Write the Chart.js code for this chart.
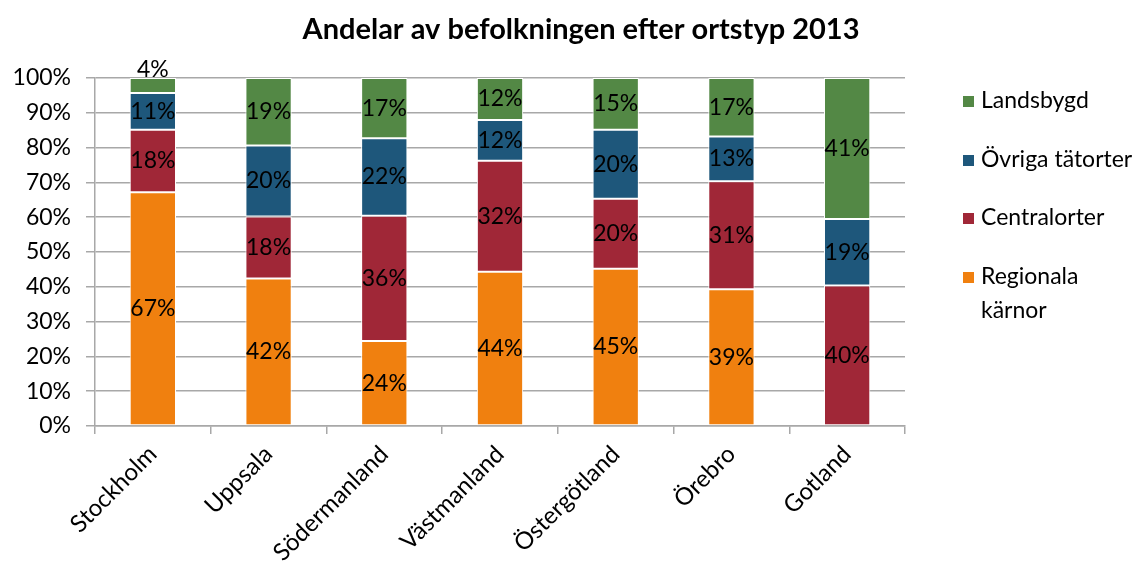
<!DOCTYPE html>
<html>
<head>
<meta charset="utf-8">
<script src="https://cdn.jsdelivr.net/npm/chart.js@4.4.1/dist/chart.umd.min.js"></script>
<style>
html, body { margin: 0; padding: 0; background: #fff; }
#wrap { width: 1145px; height: 569px; position: relative; }
</style>
</head>
<body>
<div id="wrap"><canvas id="c"></canvas></div>
<script>
// Andelar av befolkningen efter ortstyp 2013 (percent)
const regions = ['Stockholm', 'Uppsala', 'Södermanland', 'Västmanland', 'Östergötland', 'Örebro', 'Gotland'];
const regionalaKarnor = [67.2, 42.4, 24.4, 44.3, 45.2, 39.3, 0];
const centralorter = [17.9, 17.8, 36.0, 31.9, 20.1, 31.0, 40.4];
const ovrigaTatorter = [10.6, 20.4, 22.3, 11.7, 19.8, 12.9, 19.1];
const landsbygd = [4.3, 19.4, 17.3, 12.1, 14.9, 16.8, 40.5];
const yTicks = [0, 10, 20, 30, 40, 50, 60, 70, 80, 90, 100];

const FONT = 'Lato, "Open Sans", sans-serif';
const GRID = '#a8a8a8';

const series = [
    { label: 'Regionala kärnor', lines: ['Regionala', 'kärnor'], data: regionalaKarnor, color: '#F0800F' },
    { label: 'Centralorter', lines: ['Centralorter'], data: centralorter, color: '#A02737' },
    { label: 'Övriga tätorter', lines: ['Övriga tätorter'], data: ovrigaTatorter, color: '#1E577B' },
    { label: 'Landsbygd', lines: ['Landsbygd'], data: landsbygd, color: '#538845' }
];

// title, data labels and the legend drawn by hand
const extras = {
    id: 'extras',
    afterDatasetsDraw(chart) {
        const ctx = chart.ctx;
        ctx.save();
        ctx.fillStyle = '#000';
        ctx.font = '23px ' + FONT;
        ctx.textAlign = 'center';
        ctx.textBaseline = 'middle';
        chart.data.datasets.forEach((ds, i) => {
            chart.getDatasetMeta(i).data.forEach((bar, j) => {
                const v = ds.data[j];
                if (!v) return;
                let y = (bar.y + bar.base) / 2;
                if (Math.abs(bar.base - bar.y) < 20) y = bar.y - 8;
                ctx.fillText(Math.round(v) + '%', bar.x, y);
            });
        });
        ctx.restore();
    },
    afterDraw(chart) {
        const ctx = chart.ctx;
        ctx.save();
        ctx.fillStyle = '#000';
        ctx.font = 'bold 29px ' + FONT;
        ctx.textAlign = 'center';
        ctx.textBaseline = 'middle';
        ctx.fillText('Andelar av befolkningen efter ortstyp 2013', 581, 30);

        ctx.font = '23px ' + FONT;
        ctx.textAlign = 'left';
        const legendY = [101, 160, 218, 277];
        series.slice().reverse().forEach((s, k) => {
            const y = legendY[k];
            ctx.fillStyle = s.color;
            ctx.fillRect(963, y - 5, 11, 11);
            ctx.fillStyle = '#000';
            s.lines.forEach((t, n) => ctx.fillText(t, 981, y + n * 34));
        });
        ctx.restore();
    }
};

new Chart(document.getElementById('c'), {
    type: 'bar',
    data: {
        labels: regions,
        datasets: series.map(s => ({
            label: s.label,
            data: s.data,
            backgroundColor: s.color,
            borderColor: '#fff',
            borderWidth: 1,
            borderSkipped: false,
            barPercentage: 0.4,
            categoryPercentage: 1
        }))
    },
    options: {
        responsive: true,
        maintainAspectRatio: false,
        animation: false,
        layout: { padding: { left: 10, right: 240, top: 78, bottom: 0 } },
        plugins: {
            legend: { display: false },
            title: { display: false },
            tooltip: { enabled: false }
        },
        scales: {
            x: {
                stacked: true,
                grid: { drawOnChartArea: false, offset: true, tickLength: 8, color: GRID, lineWidth: 1.5 },
                border: { color: GRID, width: 1.5 },
                ticks: { color: '#000', font: { size: 24, family: FONT }, minRotation: 45, maxRotation: 45, padding: 6 },
                afterFit(scale) { scale.height = 143; }
            },
            y: {
                stacked: true,
                min: 0,
                max: 100,
                afterBuildTicks(scale) { scale.ticks = yTicks.map(v => ({ value: v })); },
                grid: { color: GRID, tickLength: 9, lineWidth: 1.5 },
                border: { color: GRID, width: 1.5 },
                ticks: { color: '#000', font: { size: 23, family: FONT }, padding: 15, callback: v => v + '%' },
                afterFit(scale) { scale.width = 85; }
            }
        }
    },
    plugins: [extras]
});
</script>
</body>
</html>
